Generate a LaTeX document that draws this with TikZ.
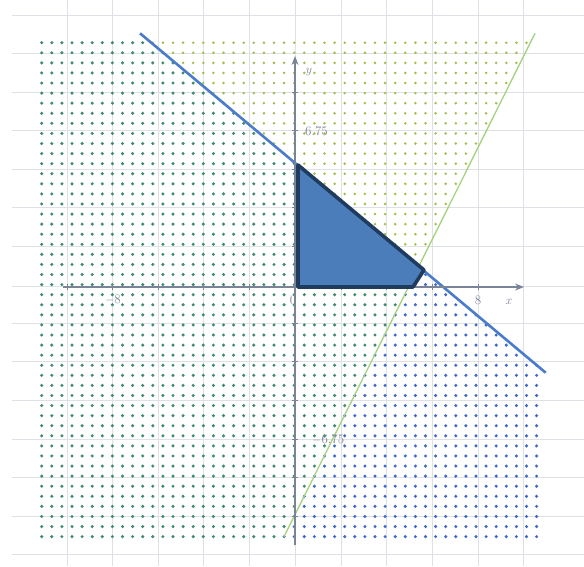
\documentclass[tikz,border=0pt]{standalone}
\usetikzlibrary{arrows.meta}
\definecolor{gridc}{HTML}{DDE0E4}
\definecolor{axisc}{HTML}{7A8496}
\definecolor{dotT}{HTML}{3E8C70}
\definecolor{dotY}{HTML}{A2BE4A}
\definecolor{dotB}{HTML}{3F6ACB}
\definecolor{blueline}{HTML}{4A7CCB}
\definecolor{greenline}{HTML}{A6D27E}
\definecolor{polyfill}{HTML}{4B7DBA}
\definecolor{polyedge}{HTML}{1F3B5E}
\definecolor{labc}{HTML}{7A8292}
\tikzset{
  gridline/.style={draw=gridc, line width=0.9pt},
  axisline/.style={draw=axisc, line width=1.3pt, -{Stealth[length=9pt,width=7pt]}},
  ticks/.style={draw=axisc, line width=0.9pt},
  lab/.style={text=labc, font=\fontsize{13}{15}\selectfont, inner sep=0pt},
}
\begin{document}
\begin{tikzpicture}[x=1pt,y=-1pt]
\useasboundingbox (0,0) rectangle (584,566);
\fill[white] (0,0) rectangle (584,566);
% grid
\foreach \gx in {67,112.5,158,203.5,249,295,341,386.5,432,478,523.5}
  \draw[gridline] (\gx,0) -- (\gx,566);
\foreach \gy in {15,53.5,92,130.5,169,207.5,246,286,323,361.5,400,439,477.5,516,554.5}
  \draw[gridline] (12,\gy) -- (584,\gy);
% dots
\foreach \i in {0,...,49}{
  \foreach \j in {0,...,49}{
    \pgfmathsetmacro\px{41.7+10.1*\i}
    \pgfmathsetmacro\py{42.7+10.08*\j}
    \pgfmathtruncatemacro\isB{(\py > 33.3+(\px-140)*0.8366) ? 1 : 0}
    \pgfmathtruncatemacro\isL{(\px < 535-(\py-33.3)*0.4986) ? 1 : 0}
    \pgfmathtruncatemacro\code{2*\isB+\isL}
    \ifcase\code
    \or \fill[dotY] (\px,\py) circle[radius=1.4];
    \or \fill[dotB] (\px,\py) circle[radius=1.7];
    \or \fill[dotT] (\px,\py) circle[radius=1.7];
    \fi
  }
}
% boundary lines
\coordinate (g1) at (535,33.3);
\coordinate (g2) at (284,536.7);
\coordinate (b1) at (140,33.3);
\coordinate (b2) at (545.7,372.7);
\draw[greenline, line width=1.3pt] (g1) -- (g2);
\draw[blueline, line width=2.6pt] (b1) -- (b2);
% axes
\coordinate (xs) at (63,287);
\coordinate (xe) at (524,287);
\coordinate (ys) at (295,545);
\coordinate (ye) at (295,56);
\draw[axisline] (xs) -- (xe);
\draw[axisline] (ys) -- (ye);
\foreach \gx in {67,112.5,158,203.5,249,341,386.5,432,478}
  \draw[ticks] (\gx,284) -- (\gx,290);
\foreach \gy in {92,130.5,169,207.5,246,323,361.5,400,439,477.5,516}
  \draw[ticks] (292,\gy) -- (298,\gy);
% feasible region
\coordinate (p1) at (298,165);
\coordinate (p2) at (298,287);
\coordinate (p3) at (413,287);
\coordinate (p4) at (424,270);
\draw[fill=polyfill, draw=polyedge, line width=3.6pt, line join=round] (p1) -- (p2) -- (p3) -- (p4) -- cycle;
% labels
\node[lab] (lx) at (509,302) {$x$};
\node[lab] (ly) at (309,72) {$y$};
\node[lab, anchor=west] (l675) at (305,131.5) {6.75};
\node[lab, anchor=west] (lm675) at (312,440) {$-$6.75};
\node[lab] (lm8) at (113,300) {$-$8};
\node[lab] (l8) at (478,300) {8};
\node[lab] (l0) at (293,300) {0};
\end{tikzpicture}
\end{document}
